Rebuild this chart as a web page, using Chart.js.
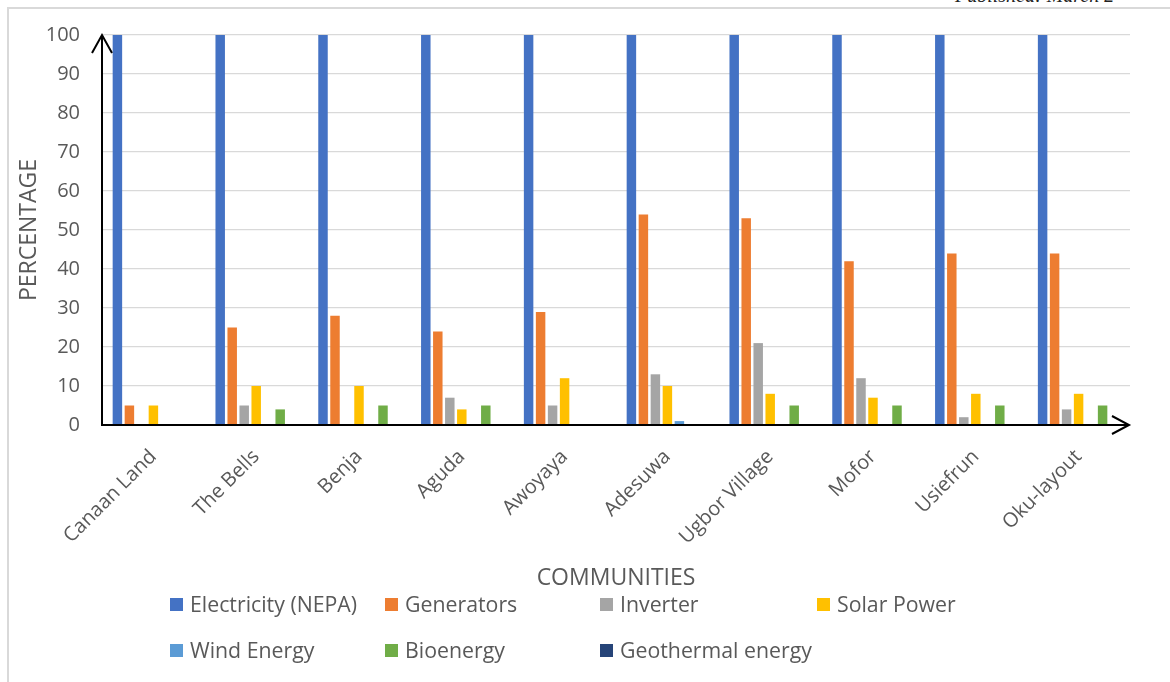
<!DOCTYPE html>
<html>
<head>
<meta charset="utf-8">
<title>Energy sources by community</title>
<script src="https://cdn.jsdelivr.net/npm/chart.js@4.4.1/dist/chart.umd.min.js"></script>
<style>
  html, body { margin: 0; padding: 0; background: #ffffff; }
  body { width: 1170px; height: 682px; position: relative; overflow: hidden; font-family: "Open Sans", sans-serif; }
  #frame { position: absolute; left: 7px; top: 7px; width: 1200px; height: 700px;
           border-left: 2px solid #d9d9d9; border-top: 2px solid #d9d9d9; box-sizing: border-box; }
  #pub { position: absolute; left: 955px; top: -16px; white-space: nowrap;
         font-family: "Liberation Serif", serif; font-style: italic; font-size: 20px; color: #222; }
  #chart { position: absolute; left: 0; top: 0; }
  #legend { position: absolute; left: 0; top: 0; width: 1170px; height: 682px; pointer-events: none; }
  .item { position: absolute; display: flex; align-items: center; font-size: 21.3px; color: #595959;
          white-space: nowrap; line-height: 24px; }
  .box { width: 13px; height: 13px; margin-right: 7px; flex: none; }
</style>
</head>
<body>
<div id="frame"></div>
<div id="pub">Published: March 2</div>
<canvas id="chart" width="1170" height="682"></canvas>
<div id="legend"></div>
<script>
// Communities surveyed
const communities = ["Canaan Land", "The Bells", "Benja", "Aguda", "Awoyaya",
                     "Adesuwa", "Ugbor Village", "Mofor", "Usiefrun", "Oku-layout"];

// Share of households using each energy source (%)
const electricityNepa = [100, 100, 100, 100, 100, 100, 100, 100, 100, 100];
const generators      = [5, 25, 28, 24, 29, 54, 53, 42, 44, 44];
const inverter        = [0, 5, 0, 7, 5, 13, 21, 12, 2, 4];
const solarPower      = [5, 10, 10, 4, 12, 10, 8, 7, 8, 8];
const windEnergy      = [0, 0, 0, 0, 0, 1, 0, 0, 0, 0];
const bioenergy       = [0, 4, 5, 5, 0, 0, 5, 5, 5, 5];
const geothermal      = [0, 0, 0, 0, 0, 0, 0, 0, 0, 0];

const yTicks = [0, 10, 20, 30, 40, 50, 60, 70, 80, 90, 100];

const seriesNames  = ["Electricity (NEPA)", "Generators", "Inverter", "Solar Power",
                      "Wind Energy", "Bioenergy", "Geothermal energy"];
const seriesValues = [electricityNepa, generators, inverter, solarPower,
                      windEnergy, bioenergy, geothermal];
const seriesColors = ["#4472C4", "#ED7D31", "#A5A5A5", "#FFC000",
                      "#5B9BD5", "#70AD47", "#264478"];

const datasets = seriesNames.map((name, i) => ({
  label: name,
  data: seriesValues[i],
  backgroundColor: seriesColors[i],
  borderWidth: 0,
  categoryPercentage: 0.817,
  barPercentage: 0.79
}));

// Black axis lines with open arrowheads
const arrowAxes = {
  id: "arrowAxes",
  afterDatasetsDraw(chart) {
    const { ctx, chartArea: a } = chart;
    ctx.save();
    ctx.strokeStyle = "#000000";
    ctx.lineWidth = 2;
    ctx.lineCap = "butt";
    ctx.lineJoin = "miter";
    // vertical axis
    ctx.beginPath();
    ctx.moveTo(a.left, a.bottom + 1);
    ctx.lineTo(a.left, a.top);
    ctx.stroke();
    ctx.beginPath();
    ctx.moveTo(a.left - 10, a.top + 18);
    ctx.lineTo(a.left, a.top);
    ctx.lineTo(a.left + 10, a.top + 18);
    ctx.stroke();
    // horizontal axis
    ctx.beginPath();
    ctx.moveTo(a.left - 1, a.bottom);
    ctx.lineTo(a.right - 1, a.bottom);
    ctx.stroke();
    ctx.beginPath();
    ctx.moveTo(a.right - 18, a.bottom - 9);
    ctx.lineTo(a.right - 1, a.bottom);
    ctx.lineTo(a.right - 18, a.bottom + 9);
    ctx.stroke();
    ctx.restore();
  }
};

const chart = new Chart(document.getElementById("chart"), {
  type: "bar",
  data: { labels: communities, datasets },
  options: {
    responsive: false,
    animation: false,
    layout: { padding: { left: 8, top: 35, right: 40, bottom: 90 } },
    plugins: { legend: { display: false }, tooltip: { enabled: false } },
    scales: {
      x: {
        grid: { display: false, drawTicks: false },
        border: { display: false },
        ticks: {
          color: "#595959",
          font: { family: "Open Sans", size: 20 },
          minRotation: 45,
          maxRotation: 45,
          padding: 20,
          autoSkip: false
        },
        title: {
          display: true,
          text: "COMMUNITIES",
          color: "#595959",
          font: { family: "Open Sans", size: 23 },
          padding: { top: 0, bottom: 0 }
        },
        afterFit(scale) { scale.height = 167; }
      },
      y: {
        min: 0,
        max: 100,
        afterBuildTicks(scale) { scale.ticks = yTicks.map(v => ({ value: v })); },
        grid: { color: "#d9d9d9", lineWidth: 1.3, drawTicks: false },
        border: { display: false },
        ticks: {
          color: "#595959",
          font: { family: "Open Sans", size: 20 },
          padding: 22
        },
        title: {
          display: true,
          text: "PERCENTAGE",
          color: "#595959",
          font: { family: "Open Sans", size: 23 },
          padding: { top: 8, bottom: 0 }
        },
        afterFit(scale) { scale.width = 94; }
      }
    }
  },
  plugins: [arrowAxes]
});

// Legend laid out as a four-column grid under the axis title
const legendEl = document.getElementById("legend");
const colX = [170, 385, 600, 817];
const rowY = [592, 638];
seriesNames.forEach((name, i) => {
  const item = document.createElement("div");
  item.className = "item";
  item.style.left = colX[i % 4] + "px";
  item.style.top = rowY[Math.floor(i / 4)] + "px";
  const box = document.createElement("span");
  box.className = "box";
  box.style.background = seriesColors[i];
  const txt = document.createElement("span");
  txt.textContent = name;
  item.appendChild(box);
  item.appendChild(txt);
  legendEl.appendChild(item);
});
</script>
</body>
</html>
